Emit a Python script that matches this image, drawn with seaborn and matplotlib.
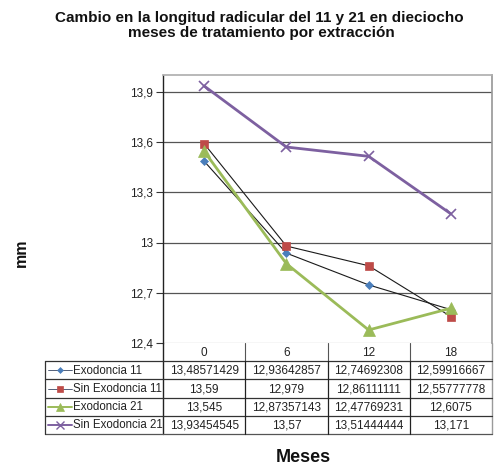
import matplotlib
matplotlib.use("Agg")
import matplotlib.pyplot as plt
import seaborn as sns
import pandas as pd
from matplotlib.lines import Line2D

# Data
months = [0, 6, 12, 18]
month_labels = ["0", "6", "12", "18"]
series_names = ["Exodoncia 11", "Sin Exodoncia 11", "Exodoncia 21", "Sin Exodoncia 21"]
exodoncia_11 = [13.48571429, 12.93642857, 12.74692308, 12.59916667]
sin_exodoncia_11 = [13.59, 12.979, 12.86111111, 12.55777778]
exodoncia_21 = [13.545, 12.87357143, 12.47769231, 12.6075]
sin_exodoncia_21 = [13.93454545, 13.57, 13.51444444, 13.171]
y_ticks = [12.4, 12.7, 13.0, 13.3, 13.6, 13.9]

values = [exodoncia_11, sin_exodoncia_11, exodoncia_21, sin_exodoncia_21]

# Series styling (line colour, marker colour, marker, marker size, line width)
styles = [
    dict(line="#1a1a1a", mfc="#4A7EBB", marker="D", ms=4, lw=0.8),
    dict(line="#1a1a1a", mfc="#BE4B48", marker="s", ms=6, lw=0.8),
    dict(line="#9BBB59", mfc="#9BBB59", marker="^", ms=8, lw=2.0),
    dict(line="#7D60A0", mfc="#7D60A0", marker="x", ms=7, lw=2.0),
]

sns.set_theme(style="white")
plt.rcParams["font.family"] = ["Liberation Sans", "DejaVu Sans"]

W, H = 497, 469
fig = plt.figure(figsize=(W / 100, H / 100), dpi=100)

# Plot area
x0, x1, y0, y1 = 163, 492, 75, 343
ax = fig.add_axes([x0 / W, 1 - y1 / H, (x1 - x0) / W, (y1 - y0) / H])

rows = []
for name, vals in zip(series_names, values):
    for m, v in zip(months, vals):
        rows.append({"Meses": m, "mm": v, "serie": name})
df = pd.DataFrame(rows)

for name, st in zip(series_names, styles):
    sub = df[df["serie"] == name]
    sns.lineplot(data=sub, x="Meses", y="mm", ax=ax, color=st["line"], lw=st["lw"],
                 marker=st["marker"], markersize=st["ms"], markerfacecolor=st["mfc"],
                 markeredgecolor=st["mfc"], markeredgewidth=1.2 if st["marker"] == "x" else 0.5,
                 legend=False, zorder=3)

ax.set_xlim(-3, 21)
ax.set_ylim(12.4, 14.0)
ax.set_yticks(y_ticks)
ax.set_yticklabels([f"{v:g}".replace(".", ",") for v in y_ticks], fontsize=8.5, color="#222222")
ax.set_xticks([])
ax.set_xlabel("")
ax.set_ylabel("")
ax.tick_params(axis="y", direction="out", length=5, width=0.8, color="#333333", left=True, pad=2)
for v in y_ticks:
    ax.axhline(v, color="#555555" if v > 12.4 else "#bbbbbb", lw=0.9, zorder=1)
ax.spines["left"].set_color("#222222")
ax.spines["left"].set_linewidth(1.0)
ax.spines["bottom"].set_visible(False)
ax.spines["top"].set_color("#b0b0b0")
ax.spines["right"].set_color("#9a9a9a")

# Overlay in pixel coordinates for the data table and labels
ov = fig.add_axes([0, 0, 1, 1])
ov.set_xlim(0, W)
ov.set_ylim(H, 0)
ov.axis("off")
ov.patch.set_alpha(0)

tl, tr = 45, 492
row_edges = [343, 361, 379.5, 398, 416, 434]
col_w = (x1 - x0) / 4
col_edges = [x0 + i * col_w for i in range(5)]

# Header row (month categories)
for i, lab in enumerate(month_labels):
    ov.text(x0 + (i + 0.5) * col_w, (row_edges[0] + row_edges[1]) / 2 + 0.5, lab,
            ha="center", va="center", fontsize=8.5, color="#222222")
for cx in col_edges[1:4]:
    ov.plot([cx, cx], [row_edges[0], row_edges[1]], color="#555555", lw=0.8)
ov.plot([x0, x0], [row_edges[0], row_edges[-1]], color="#222222", lw=1.0)
ov.plot([x1, x1], [y1, row_edges[-1]], color="#9a9a9a", lw=1.0)

# Body rows
for r in range(1, 6):
    ov.plot([tl, tr], [row_edges[r], row_edges[r]], color="#333333" if r < 5 else "#555555", lw=0.9)
ov.plot([tl, tl], [row_edges[1], row_edges[-1]], color="#333333", lw=0.9)
for cx in col_edges[1:4]:
    ov.plot([cx, cx], [row_edges[1], row_edges[-1]], color="#222222", lw=0.9)


def fmt(v):
    s = f"{v:.8f}".rstrip("0").rstrip(".")
    return s.replace(".", ",")


for r, (name, vals, st) in enumerate(zip(series_names, values, styles)):
    cy = (row_edges[r + 1] + row_edges[r + 2]) / 2
    ov.add_line(Line2D([48, 72], [cy, cy], color=st["line"] if st["lw"] > 1 else "#2a3a5a",
                       lw=st["lw"] * 0.7))
    ov.add_line(Line2D([60], [cy], marker=st["marker"], markersize=st["ms"] * 0.75,
                       markerfacecolor=st["mfc"], markeredgecolor=st["mfc"],
                       markeredgewidth=1.0 if st["marker"] == "x" else 0.5, lw=0))
    ov.text(73, cy + 0.5, name, ha="left", va="center", fontsize=8.3, color="#222222")
    for i, v in enumerate(vals):
        ov.text(x0 + (i + 0.5) * col_w, cy + 0.5, fmt(v), ha="center", va="center",
                fontsize=8.5, color="#222222")

# Titles and axis labels
ov.text(259, 18, "Cambio en la longitud radicular del 11 y 21 en dieciocho",
        ha="center", va="center", fontsize=11, fontweight="bold", color="#111111")
ov.text(261, 33, "meses de tratamiento por extracción",
        ha="center", va="center", fontsize=11, fontweight="bold", color="#111111")
ov.text(21, 253, "mm", ha="center", va="center", rotation=90, fontsize=11.5,
        fontweight="bold", color="#111111")
ov.text(303, 457, "Meses", ha="center", va="center", fontsize=13,
        fontweight="bold", color="#111111")

fig.savefig("out.png", dpi=100)
